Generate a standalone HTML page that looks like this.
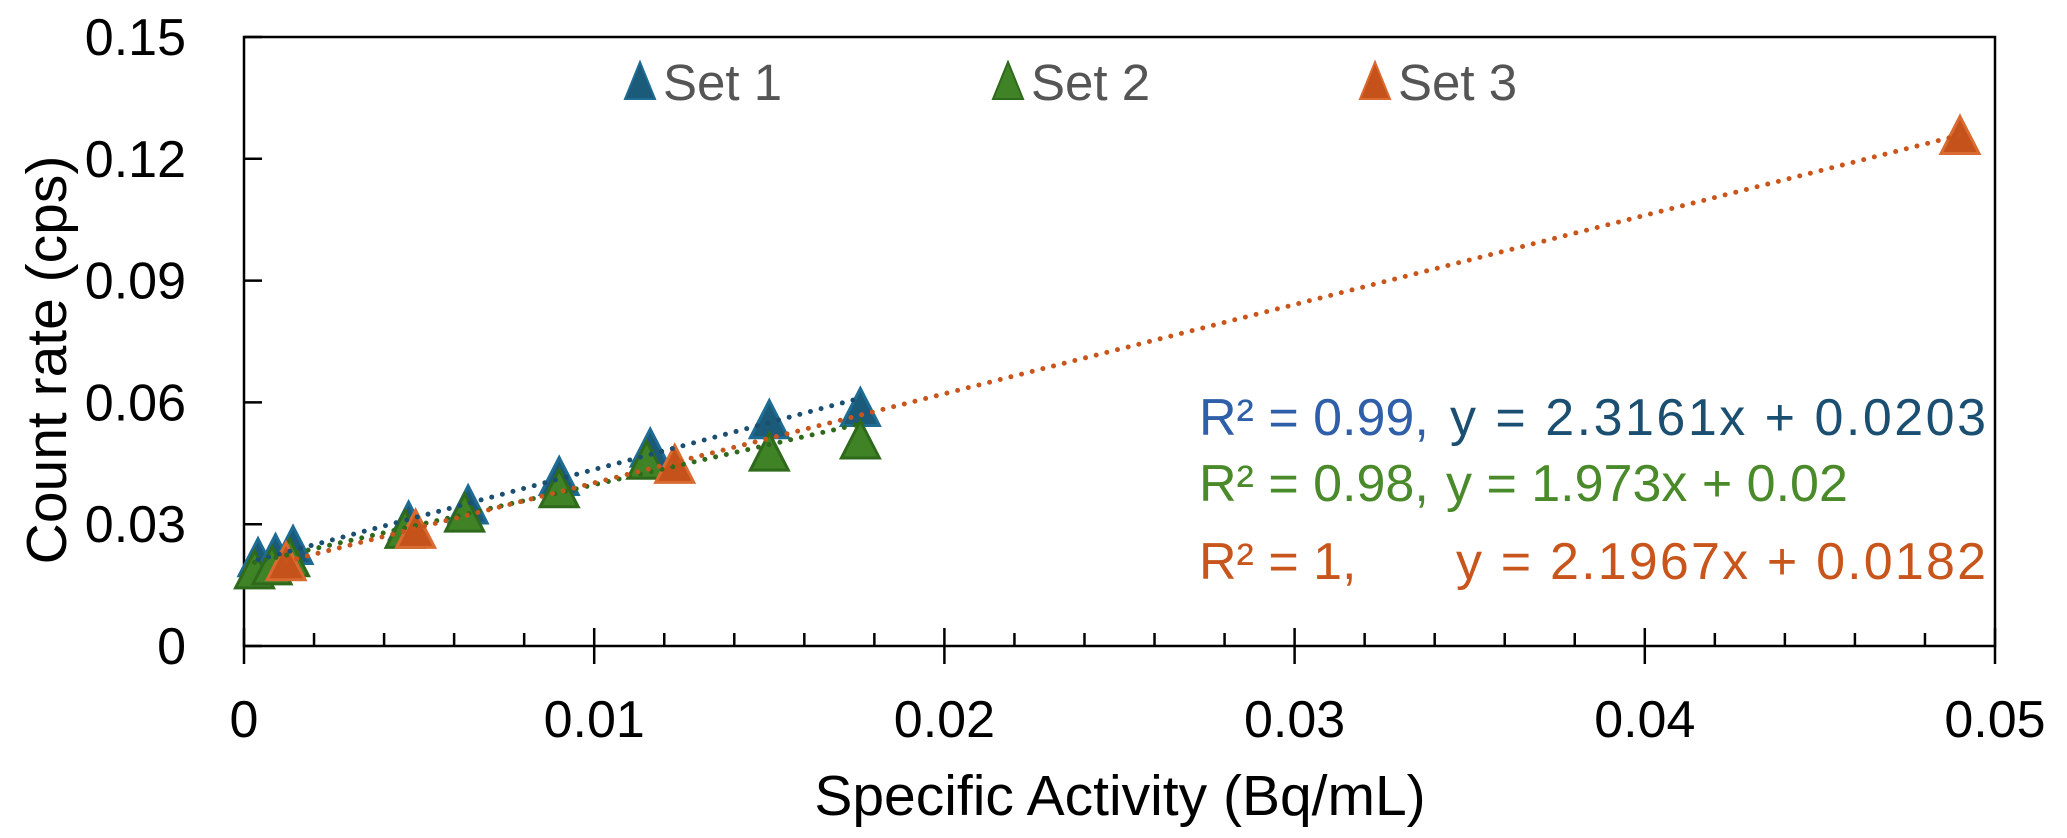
<!DOCTYPE html>
<html><head><meta charset="utf-8"><style>
html,body{margin:0;padding:0;background:#fff;}
svg{display:block;font-family:"Liberation Sans",sans-serif;}
</style></head><body>
<svg id="chart" width="2067" height="838" viewBox="0 0 2067 838">
<g id="axes"></g><g id="trends"></g><g id="marks"></g>
<g font-size="51" fill="#555">
 <g><polygon points="625,99 640,62 655,99" fill="#1b5a78" stroke="#1e6c94" stroke-width="2"/><text x="663" y="100">Set 1</text></g>
 <g><polygon points="993,99 1008,62 1023,99" fill="#3f8326" stroke="#2f6a1c" stroke-width="2"/><text x="1031" y="100">Set 2</text></g>
 <g><polygon points="1360,99 1375,62 1390,99" fill="#c4521a" stroke="#d96a30" stroke-width="2"/><text x="1398" y="100">Set 3</text></g>
</g>
<g font-size="52">
 <text x="1199" y="435" fill="#2f5fa8">R² = 0.99,</text>
 <text x="1450" y="435" fill="#1b4f72" textLength="536">y = 2.3161x + 0.0203</text>
 <text x="1199" y="501" fill="#4a8a2a">R² = 0.98,</text>
 <text x="1446" y="501" fill="#4a8a2a">y = 1.973x + 0.02</text>
 <text x="1199" y="579" fill="#c8561c">R² = 1,</text>
 <text x="1456" y="579" fill="#c8561c" textLength="530">y = 2.1967x + 0.0182</text>
</g>
<text x="1120" y="815" font-size="57" text-anchor="middle" fill="#000">Specific Activity (Bq/mL)</text>
<text transform="translate(66,360) rotate(-90)" font-size="57" text-anchor="middle" fill="#000">Count rate (cps)</text>
</svg>
<script>
const xTicks=[0,0.01,0.02,0.03,0.04,0.05];
const xTickLabels=["0","0.01","0.02","0.03","0.04","0.05"];
const yTicks=[0,0.03,0.06,0.09,0.12,0.15];
const yTickLabels=["0","0.03","0.06","0.09","0.12","0.15"];
const set1X=[0.0004,0.0009,0.0014,0.0047,0.0064,0.009,0.0116,0.015,0.0176];
const set1Y=[0.021,0.022,0.024,0.030,0.034,0.041,0.048,0.055,0.058];
const set2X=[0.0003,0.0008,0.0013,0.0046,0.0063,0.009,0.0115,0.015,0.0176];
const set2Y=[0.018,0.019,0.021,0.028,0.032,0.038,0.045,0.047,0.050];
const set3X=[0.0012,0.0049,0.0123,0.049];
const set3Y=[0.020,0.028,0.044,0.125];
const slopes=[2.3161,1.973,2.1967];
const intercepts=[0.0203,0.02,0.0182];

const L=244,R=1995,T=37,B=646;
const sx=v=>L+v/0.05*(R-L);
const sy=v=>B-v/0.15*(B-T);
const NS='http://www.w3.org/2000/svg';
function mk(tag,attrs,parent){const e=document.createElementNS(NS,tag);for(const k in attrs)e.setAttribute(k,attrs[k]);parent.appendChild(e);return e;}
const axes=document.getElementById('axes');
let f=mk('rect',{x:L,y:T,width:R-L,height:B-T,fill:'none',stroke:'#000','stroke-width':2.5},axes);


for(let i=0;i<=25;i++){
  const v=i*0.002,x=sx(v),maj=i%5===0;
  const t=mk('line',{x1:x,x2:x,y1:maj?B-18:B-13,y2:maj?B+18:B,stroke:'#000','stroke-width':2.5},axes);
  
  
}
xTicks.forEach((v,i)=>{
  const t=mk('text',{x:sx(v),y:737,'font-size':52,'text-anchor':'middle',fill:'#000'},axes);t.textContent=xTickLabels[i];
  
  
});
yTicks.forEach((v,i)=>{
  const y=sy(v);
  const l=mk('line',{x1:L,x2:L+18,y1:y,y2:y,stroke:'#000','stroke-width':2.5},axes);
  
  
  const t=mk('text',{x:186,y:y+18,'font-size':52,'text-anchor':'end',fill:'#000'},axes);t.textContent=yTickLabels[i];
  
  
});
const sets=[[set1X,set1Y,'#1b5a78','#1e6c94','#1b4f72'],[set2X,set2Y,'#3f8326','#2f6a1c','#2f6a1c'],[set3X,set3Y,'#c4521a','#d96a30','#c8561c']];
const mg=document.getElementById('marks');
sets.forEach((s,k)=>{
  const [xs,ys,fill,stroke]=s;
  xs.forEach((xv,i)=>{
    const cx=sx(xv),cy=sy(ys[i]);
    const p=mk('polygon',{points:`${cx-19},${cy+15} ${cx},${cy-22} ${cx+19},${cy+15}`,fill:fill,stroke:stroke,'stroke-width':3},mg);
    
    
  });
});
sets.forEach((s,k)=>{
  const xs=s[0],x0=Math.min(...xs),x1=Math.max(...xs);
  const l=mk('line',{x1:sx(x0),y1:sy(slopes[k]*x0+intercepts[k]),x2:sx(x1),y2:sy(slopes[k]*x1+intercepts[k]),stroke:s[4],'stroke-width':5,'stroke-linecap':'round','stroke-dasharray':'0 11'},mg);
  
  
});
</script>
</body></html>
